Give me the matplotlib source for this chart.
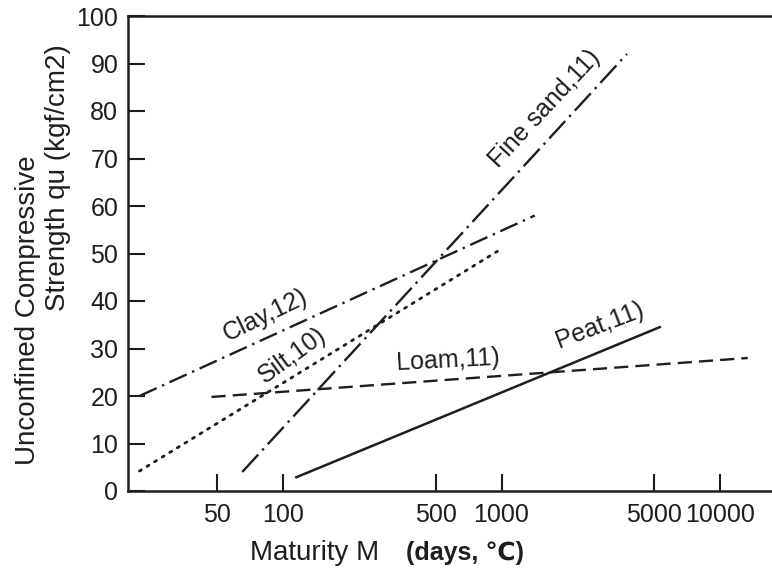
import numpy as np
import matplotlib
matplotlib.use('Agg')
import matplotlib.pyplot as plt

plt.rcParams['font.family'] = ['Liberation Sans', 'DejaVu Sans']

# maturity (days, C) and unconfined compressive strength (kgf/cm2), end points of each fit
clay_m = [22, 1420]
clay_q = [20, 58]
silt_m = [22, 1000]
silt_q = [4.2, 51]
sand_m = [65, 3750]
sand_q = [4, 92]
loam_m = [47, 13400]
loam_q = [19.8, 28]
peat_m = [115, 5300]
peat_q = [2.9, 34.5]

xticks = [50, 100, 500, 1000, 5000, 10000]
yticks = [0, 10, 20, 30, 40, 50, 60, 70, 80, 90, 100]

ink = '#1e1e1e'
W, H = 772, 573

fig = plt.figure(figsize=(W / 100, H / 100), dpi=100)
ax = fig.add_axes([128 / W, 1 - 491 / H, 1 - 128 / W, (491 - 16) / H])

ax.plot(clay_m, clay_q, color=ink, lw=1.7, linestyle=(0, (8, 2.5, 1, 2.5)))
ax.plot(silt_m, silt_q, color=ink, lw=2.0, linestyle=(0, (0.8, 2.4)),
        dash_capstyle='round')
ax.plot(sand_m, sand_q, color=ink, lw=1.7, linestyle=(0, (10, 2.5, 1, 2.5)))
ax.plot(loam_m, loam_q, color=ink, lw=1.7, linestyle=(0, (6, 3)))
ax.plot(peat_m, peat_q, color=ink, lw=1.8)

# curve labels
labels = ['Clay,12)', 'Silt,10)', 'Fine sand,11)', 'Loam,11)', 'Peat,11)']
label_pos = [(83, 37.1), (110, 28.6), (1580, 80.6), (569, 27.6), (2820, 34.9)]
label_rot = [26, 36, 47, 3, 21]
for t, (x, y), r in zip(labels, label_pos, label_rot):
    ax.text(x, y, t, rotation=r, ha='center', va='center', fontsize=18,
            color=ink, rotation_mode='anchor')

ax.set_xscale('log')
ax.set_xlim(19.5, 17300)
ax.set_ylim(0, 100)
ax.set_xticks(xticks)
ax.set_xticklabels([str(v) for v in xticks])
ax.set_yticks(yticks)
ax.minorticks_off()
ax.tick_params(axis='both', direction='in', length=12, width=1.5,
               labelsize=18, colors=ink, pad=7)
ax.tick_params(axis='x', pad=9)

for side in ['left', 'bottom', 'top']:
    ax.spines[side].set_linewidth(1.8)
    ax.spines[side].set_color(ink)
ax.spines['right'].set_visible(False)

# axis titles
fig.text(28 / W, 1 - 310 / H, 'Unconfined Compressive', rotation=90,
         ha='center', va='center', fontsize=20, color=ink)
fig.text(58 / W, 1 - 178 / H, 'Strength qu (kgf/cm2)', rotation=90,
         ha='center', va='center', fontsize=20, color=ink)
fig.text(315 / W, 1 - 553 / H, 'Maturity M', ha='center', va='center',
         fontsize=20, color=ink)
fig.text(465 / W, 1 - 553 / H, '(days, \u2103)', ha='center', va='center',
         fontsize=18, fontweight='bold', color=ink)

fig.savefig('out.png', dpi=100)
